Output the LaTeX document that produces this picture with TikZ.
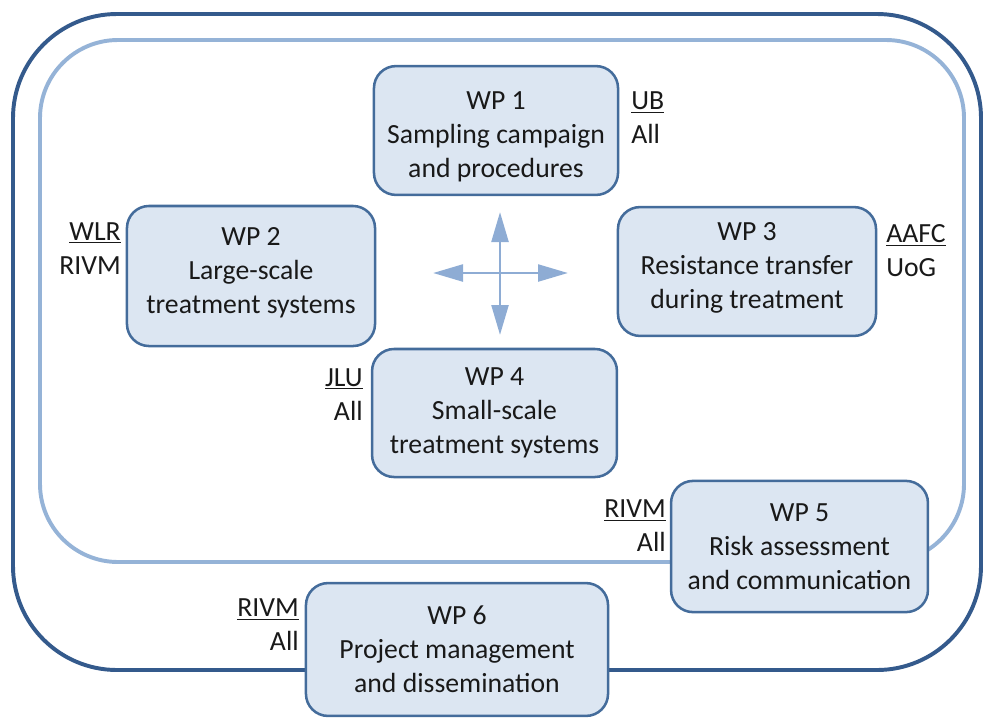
\documentclass[tikz,border=0pt]{standalone}
\usepackage{fontspec}
\setmainfont{Carlito}
\usetikzlibrary{arrows.meta}

\definecolor{frameDark}{RGB}{52,90,140}
\definecolor{frameLight}{RGB}{149,179,215}
\definecolor{arrowBlue}{RGB}{142,172,212}
\definecolor{boxFill}{RGB}{220,230,242}
\definecolor{boxLine}{RGB}{68,108,155}
\definecolor{txtGray}{RGB}{25,25,25}

% struts to nudge the text inside a box
\newcommand{\wptop}{\rule{0pt}{21pt}}
\newcommand{\wpbot}{\rule[-8.3pt]{0pt}{0pt}}

\tikzset{
  wpbox/.style={draw=boxLine, line width=1.8pt, fill=boxFill,
    rounded corners=0.55cm, align=center, inner sep=0pt, text=txtGray},
  partner/.style={inner sep=0pt, text=txtGray},
  flowarrow/.style={arrowBlue, line width=2.1pt,
    {Triangle[length=0.75cm,width=0.42cm]}-{Triangle[length=0.75cm,width=0.42cm]}},
}

\begin{document}
\begin{tikzpicture}[x=0.025cm, y=-0.025cm, font=\fontsize{19.7}{24.2}\selectfont]

\useasboundingbox (0,0) rectangle (984,718);

% --- Frames ---
\draw[frameDark, line width=2.8pt, rounded corners=2.6cm] (13,14) rectangle (981,670);
\draw[frameLight, line width=2.8pt, rounded corners=1.95cm] (40,40) rectangle (964,562);

% --- Work packages ---
\node[wpbox, minimum width=6.1cm, minimum height=3.22cm] (wp1) at (496,130.5)
  {\wptop WP 1\\Sampling campaign\\and procedures};
\node[wpbox, minimum width=6.2cm, minimum height=3.5cm] (wp2) at (251,276)
  {WP 2\\Large-scale\\treatment systems\wpbot};
\node[wpbox, minimum width=6.45cm, minimum height=3.22cm] (wp3) at (747,271.5)
  {WP 3\\Resistance transfer\\during treatment\wpbot};
\node[wpbox, minimum width=6.12cm, minimum height=3.2cm] (wp4) at (494.5,413)
  {WP 4\\Small-scale\\treatment systems};
\node[wpbox, minimum width=6.42cm, minimum height=3.28cm] (wp5) at (799.5,546.5)
  {WP 5\\Risk assessment\\and communication};
\node[wpbox, minimum width=7.55cm, minimum height=3.32cm] (wp6) at (457,649.5)
  {WP 6\\Project management\\and dissemination};

% --- Partner labels (lead underlined) ---
\node[partner, anchor=west, align=left] (lead1) at (631,118) {\underline{UB}\\All};
\node[partner, anchor=east, align=right] (lead2) at (121,248.5) {\underline{WLR}\\RIVM};
\node[partner, anchor=west, align=left] (lead3) at (886,251) {\underline{AAFC}\\UoG};
\node[partner, anchor=east, align=right] (lead4) at (363,394.5) {\underline{JLU}\\All};
\node[partner, anchor=east, align=right] (lead5) at (666,526) {\underline{RIVM}\\All};
\node[partner, anchor=east, align=right] (lead6) at (299,625) {\underline{RIVM}\\All};

% --- Cross arrows ---
\coordinate (up) at (500,212);
\coordinate (down) at (500,335);
\coordinate (left) at (433,273);
\coordinate (right) at (568,273);
\draw[flowarrow] (up) -- (down);
\draw[flowarrow] (left) -- (right);

\end{tikzpicture}
\end{document}
